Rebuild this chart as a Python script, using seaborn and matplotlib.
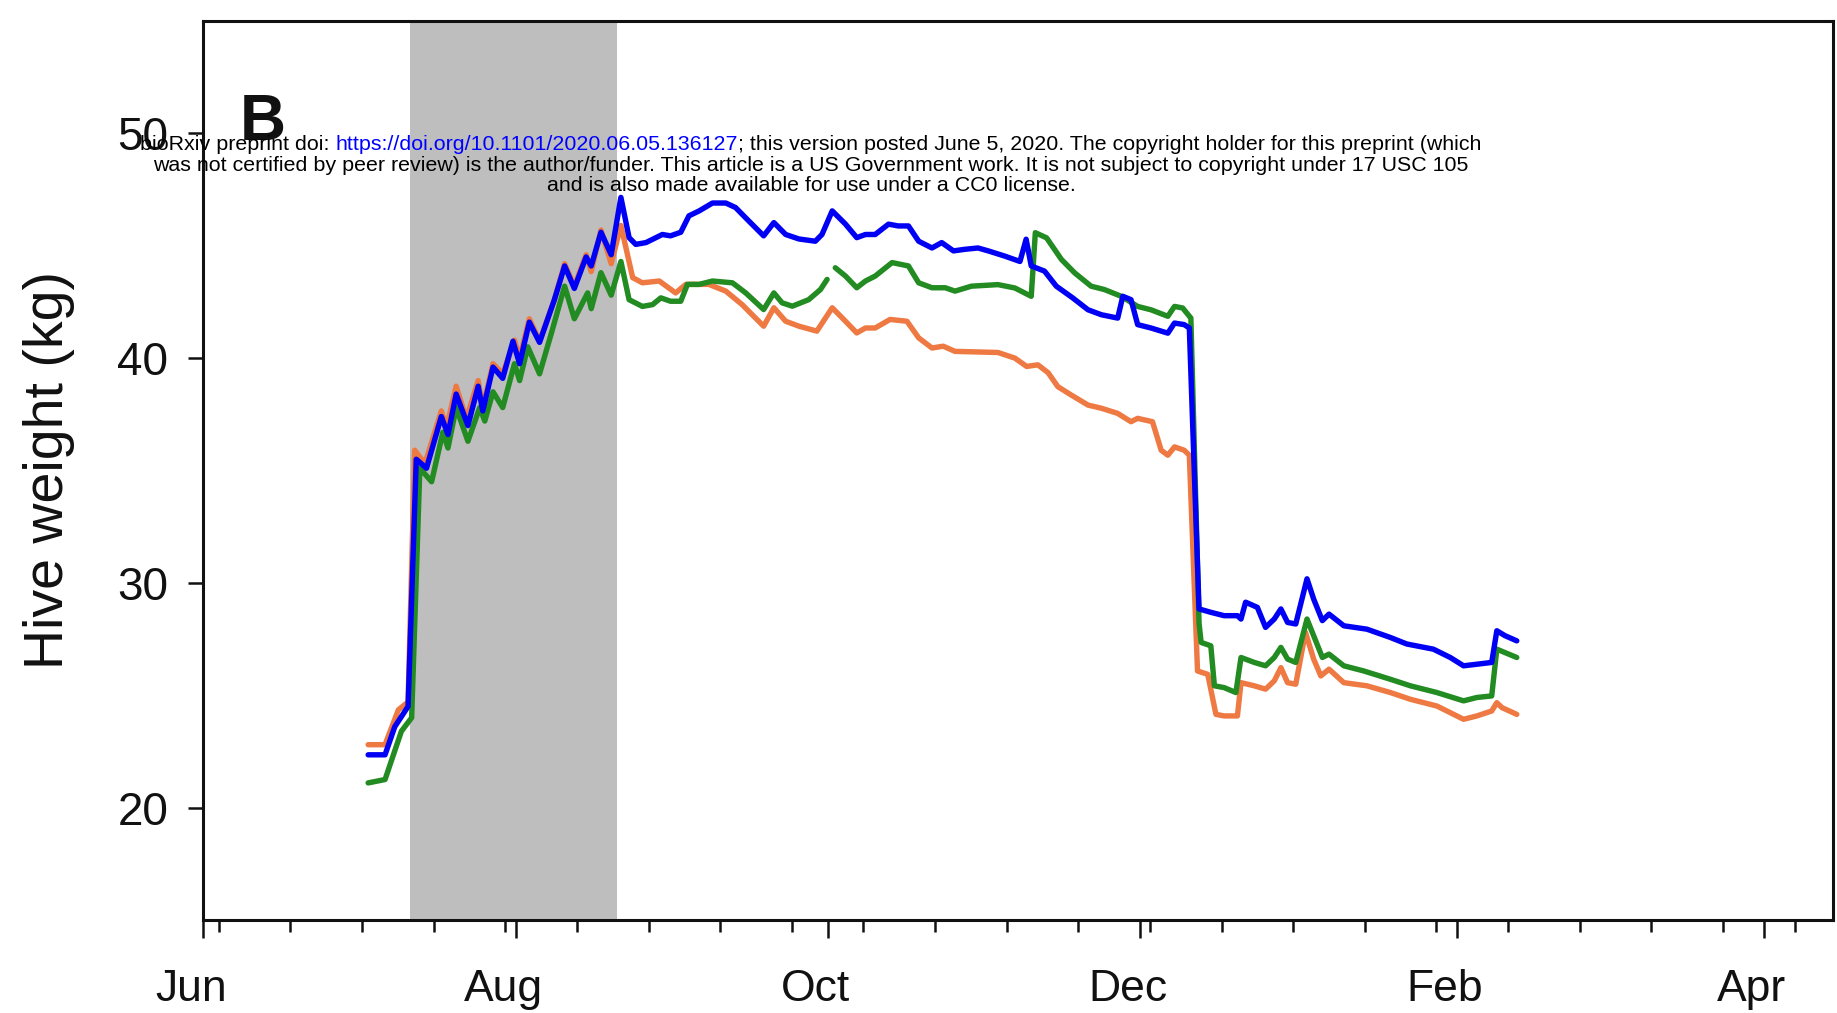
import numpy as np
import pandas as pd
import matplotlib
matplotlib.use("Agg")
import matplotlib.pyplot as plt
import matplotlib.dates as mdates
from matplotlib.ticker import FixedLocator
from matplotlib.transforms import ScaledTranslation
from matplotlib.offsetbox import TextArea, HPacker, AnnotationBbox
import seaborn as sns

# ---------------- data (days since 2019-06-01, hive weight in kg) ----------------
START_DATE = "2019-06-01"

orange_day = [32.2, 35.5, 38.1, 40.0, 41.3, 43.3, 46.5, 47.5, 49.4, 51.4, 53.7, 54.6, 56.6,
              58.5, 60.8, 61.8, 63.7, 65.7, 68.6, 70.6, 72.5, 74.8, 75.8, 77.7, 79.7, 81.6,
              83.9, 85.8, 89.1, 92.3, 94.3, 98.8, 102.1, 105.3, 109.5, 111.5, 113.8, 116.4,
              119.9, 122.9, 125.5, 127.7, 129.4, 131.3, 134.2, 137.5, 139.8, 142.4, 144.6,
              146.9, 155.3, 158.6, 160.9, 163.1, 165.1, 167.0, 169.6, 172.9, 175.5, 178.7,
              181.3, 182.6, 185.5, 187.2, 188.5, 189.8, 191.7, 192.7, 194.3, 196.3, 197.9,
              199.5, 202.1, 202.8, 205.4, 207.6, 209.3, 210.6, 211.9, 213.5, 215.4, 217.0,
              218.4, 220.0, 222.9, 227.4, 232.0, 235.9, 241.1, 246.3, 248.9, 251.8, 252.8,
              253.8, 256.7]
orange_kg = [22.8, 22.8, 24.35, 24.7, 35.9, 35.3, 37.65, 36.9, 38.75, 37.3, 39.0, 37.8, 39.75,
             39.3, 40.8, 40.0, 41.75, 40.75, 42.6, 44.2, 43.2, 44.6, 43.85, 45.7, 44.2, 45.9,
             43.58, 43.35, 43.43, 42.9, 43.28, 43.28, 42.98, 42.38, 41.42, 42.24, 41.64, 41.42,
             41.2, 42.24, 41.64, 41.12, 41.34, 41.34, 41.72, 41.64, 40.9, 40.45, 40.53,
             40.3, 40.25, 40.0, 39.63, 39.7, 39.35, 38.73, 38.36, 37.91, 37.77, 37.54,
             37.17, 37.32, 37.17, 35.9, 35.68, 36.05, 35.9, 35.68, 26.08, 25.93, 24.15,
             24.08, 24.08, 25.56, 25.42, 25.27, 25.64, 26.23, 25.56, 25.49, 27.8, 26.61,
             25.86, 26.16, 25.56, 25.42, 25.12, 24.82, 24.52, 23.93, 24.08, 24.3, 24.67,
             24.45, 24.15]

green_day = [32.2, 35.5, 38.7, 40.7, 42.3, 44.6, 46.8, 47.8, 49.4, 51.7, 54.0, 55.0, 56.6,
             58.5, 60.8, 61.8, 63.4, 65.7, 68.0, 70.6, 72.5, 75.1, 75.8, 77.7, 79.7, 81.6,
             83.2, 85.8, 87.8, 89.4, 91.3, 93.3, 94.6, 96.9, 99.5, 103.4, 106.0, 109.5,
             111.5, 113.1, 115.1, 118.3, 120.6, 121.9, 122.7, 123.5, 125.5, 127.7, 129.4,
             131.3, 134.6, 137.8, 139.8, 142.4, 145.0, 146.9, 150.1, 155.3, 158.6, 161.8,
             162.6, 164.8, 167.7, 170.3, 173.5, 176.1, 179.4, 182.6, 185.2, 188.5, 189.8,
             191.4, 193.0, 194.6, 195.0, 196.9, 197.6, 199.5, 201.8, 202.8, 205.4, 207.6,
             209.3, 210.6, 211.9, 213.5, 215.7, 217.0, 218.7, 220.0, 222.9, 226.8, 232.0,
             235.9, 241.1, 246.3, 248.9, 251.8, 252.8, 256.7]
green_kg = [21.1, 21.25, 23.4, 24.0, 35.1, 34.5, 36.7, 36.0, 37.8, 36.3, 37.8, 37.2, 38.5,
            37.8, 39.75, 39.0, 40.5, 39.3, 41.1, 43.2, 41.75, 42.9, 42.2, 43.8, 42.8, 44.3,
            42.6, 42.3, 42.38, 42.68, 42.53, 42.53, 43.28, 43.28, 43.43, 43.35, 42.9, 42.16,
            42.9, 42.46, 42.31, 42.6, 43.05, 43.5, None, 44.02, 43.65, 43.13, 43.43,
            43.65, 44.25, 44.1, 43.35, 43.13, 43.13, 42.98, 43.2, 43.27, 43.12, 42.75,
            45.58, 45.35, 44.39, 43.79, 43.2, 43.05, 42.75, 42.3, 42.15, 41.86, 42.3,
            42.23, 41.78, 28.2, 27.35, 27.2, 25.42, 25.34, 25.12, 26.68, 26.46, 26.31,
            26.68, 27.13, 26.61, 26.46, 28.39, 27.65, 26.68, 26.83, 26.31, 26.08, 25.71,
            25.42, 25.12, 24.75, 24.9, 24.97, 27.05, 26.68]

blue_day = [32.2, 35.5, 37.4, 40.0, 41.6, 43.6, 46.5, 47.8, 49.4, 51.7, 53.7, 54.6, 56.6,
            58.5, 60.5, 61.8, 63.7, 65.7, 68.6, 70.6, 72.5, 74.8, 75.8, 77.7, 79.7, 81.6,
            83.2, 84.5, 86.5, 89.7, 91.3, 93.3, 94.9, 96.9, 99.5, 102.1, 104.0, 106.6, 109.5,
            111.5, 113.8, 116.4, 119.6, 120.9, 122.9, 125.5, 127.7, 129.4, 131.3, 133.9,
            135.8, 137.8, 139.8, 142.4, 144.3, 146.6, 148.8, 151.4, 153.4, 156.6, 159.6,
            160.8, 161.8, 164.4, 166.7, 169.9, 172.9, 175.5, 178.7, 179.7, 181.3, 182.6,
            185.2, 188.5, 189.8, 191.7, 192.7, 194.6, 196.9, 199.5, 202.1, 202.8, 203.7,
            206.0, 207.6, 209.3, 210.6, 211.9, 213.5, 215.7, 217.0, 218.7, 220.0, 222.9,
            227.4, 232.0, 235.2, 240.4, 243.7, 246.3, 248.9, 251.8, 252.8, 254.4, 256.7]
blue_kg = [22.35, 22.35, 23.6, 24.5, 35.5, 35.1, 37.4, 36.6, 38.4, 37.0, 38.75, 37.65, 39.6,
           39.1, 40.75, 39.75, 41.6, 40.7, 42.6, 44.1, 43.1, 44.5, 44.1, 45.6, 44.6, 47.15,
           45.36, 45.06, 45.14, 45.5, 45.44, 45.6, 46.33, 46.55, 46.9, 46.9, 46.7, 46.1, 45.44,
           46.03, 45.5, 45.3, 45.2, 45.5, 46.55, 45.96, 45.36, 45.5, 45.5, 45.96,
           45.88, 45.88, 45.2, 44.9, 45.14, 44.77, 44.84, 44.9, 44.77, 44.54, 44.3,
           45.29, 44.1, 43.87, 43.2, 42.68, 42.15, 41.93, 41.78, 42.75, 42.6, 41.49,
           41.34, 41.11, 41.56, 41.49, 41.34, 28.84, 28.69, 28.54, 28.54, 28.39, 29.14,
           28.91, 28.02, 28.39, 28.84, 28.24, 28.17, 30.18, 29.28, 28.32, 28.61, 28.09,
           27.94, 27.57, 27.28, 27.05, 26.68, 26.31, 26.38, 26.46, 27.87, 27.65, 27.42]

hive_names = ["Hive 1", "Hive 2", "Hive 3"]
hive_colors = ["#EE7942", "#228B22", "#0000F5"]

shade_start = "2019-07-11 08:00"
shade_end = "2019-08-20 18:00"

month_ticks = [2, 4, 6, 8, 10, 12]
minor_tick_start = "2019-06-04"
x_limits = ("2019-05-31 22:00", "2020-04-14 12:00")
y_ticks = [20, 30, 40, 50]
y_limits = (15, 55)

# ---------------- build long table ----------------
rows = []
start = pd.Timestamp(START_DATE)
for name, days, kgs in zip(hive_names, [orange_day, green_day, blue_day],
                           [orange_kg, green_kg, blue_kg]):
    seg = 0
    for d, k in zip(days, kgs):
        if k is None:
            seg += 1
            continue
        rows.append({"date": start + pd.to_timedelta(d, unit="D"), "kg": k,
                     "hive": name, "segment": f"{name}-{seg}"})
df = pd.DataFrame(rows)

# ---------------- figure ----------------
sns.set_style("ticks")
plt.rcParams["font.family"] = ["Liberation Sans", "DejaVu Sans"]

fig = plt.figure(figsize=(18.37, 10.13), dpi=100)
ax = fig.add_axes([0.1105, 0.0918, 0.8873, 0.8875])

ax.axvspan(pd.Timestamp(shade_start), pd.Timestamp(shade_end), color="#BEBEBE",
           lw=0, zorder=0)

sns.lineplot(data=df, x="date", y="kg", hue="hive", units="segment", estimator=None,
             hue_order=hive_names, palette=dict(zip(hive_names, hive_colors)),
             linewidth=3.9, legend=False, sort=False, ax=ax)

ax.set_xlim(pd.Timestamp(x_limits[0]), pd.Timestamp(x_limits[1]))
ax.set_ylim(*y_limits)
ax.set_yticks(y_ticks)

ax.xaxis.set_major_locator(mdates.MonthLocator(bymonth=month_ticks))
ax.xaxis.set_major_formatter(mdates.DateFormatter("%b"))
minor = pd.date_range(minor_tick_start, x_limits[1], freq="14D")
ax.xaxis.set_minor_locator(FixedLocator(mdates.date2num(minor)))

for sp in ax.spines.values():
    sp.set_linewidth(2.2)
    sp.set_color("#111111")

ax.tick_params(axis="x", which="major", length=13, width=1.8, labelsize=32, pad=22,
               color="#111111", labelcolor="#111111")
ax.tick_params(axis="x", which="minor", length=8.5, width=1.8, color="#111111")
ax.tick_params(axis="y", which="major", length=11, width=1.8, labelsize=33, pad=14,
               color="#111111", labelcolor="#111111")

offset = ScaledTranslation(-0.12, 0, fig.dpi_scale_trans)
for lab in ax.get_xticklabels():
    lab.set_transform(lab.get_transform() + offset)

ax.set_xlabel("")
ax.set_ylabel("Hive weight (kg)", fontsize=40, color="#111111")
ax.yaxis.set_label_coords(-0.0785, 0.5)

ax.text(0.0227, 0.886, "B", transform=ax.transAxes, ha="left", va="center",
        fontsize=46, fontweight="bold", color="#111111")

# ---------------- bioRxiv watermark ----------------
wm_size = 15.4
props = dict(fontsize=wm_size, family="Liberation Sans")
p1 = TextArea("bioRxiv preprint doi:", textprops=dict(color="black", **props))
p2 = TextArea("https://doi.org/10.1101/2020.06.05.136127", textprops=dict(color="#0000FF", **props))
p3 = TextArea("; this version posted June 5, 2020. The copyright holder for this preprint (which",
              textprops=dict(color="black", **props))
inner = HPacker(children=[p2, p3], sep=0, pad=0, align="baseline")
line1 = HPacker(children=[p1, inner], sep=0.278 * wm_size, pad=0, align="baseline")
ab = AnnotationBbox(line1, (0.4415, 0.857), xycoords="figure fraction", frameon=False,
                    box_alignment=(0.5, 0.5), pad=0, zorder=10)
fig.add_artist(ab)
fig.text(0.4415, 0.837, "was not certified by peer review) is the author/funder. This article is a US "
         "Government work. It is not subject to copyright under 17 USC 105",
         ha="center", va="center", fontsize=wm_size, color="black", zorder=10)
fig.text(0.4415, 0.8165, "and is also made available for use under a CC0 license.",
         ha="center", va="center", fontsize=wm_size, color="black", zorder=10)

fig.savefig("out.png", dpi=100)
